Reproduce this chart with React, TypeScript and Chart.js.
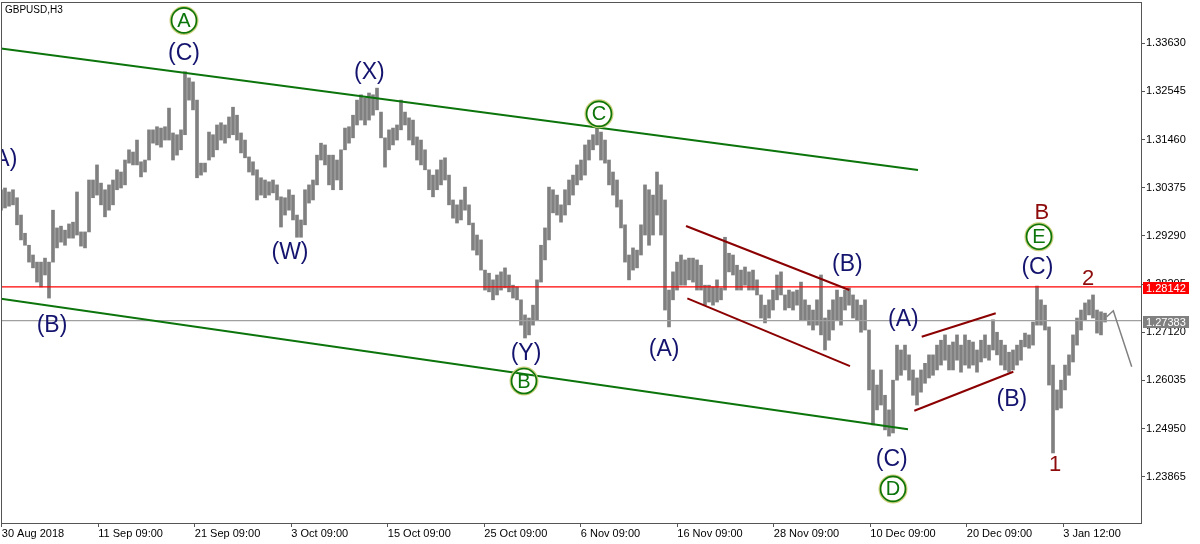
import React, { useEffect, useRef } from 'react';
import { Chart, registerables } from 'chart.js';

Chart.register(...registerables);

// ---- data: GBPUSD H3 bars (one entry per ~3 bars), highs and lows ----
const barHighs = [
  1.3033, 1.3037, 1.3028, 1.3033, 1.3015, 1.2976, 1.2935, 1.2908, 1.2886, 1.2870,
  1.2870, 1.2879, 1.2870, 1.2987, 1.2947, 1.2951, 1.2942, 1.2956, 1.2960, 1.3028,
  1.2938, 1.2938, 1.3055, 1.3055, 1.3089, 1.3048, 1.3033, 1.3044, 1.3055, 1.3078,
  1.3073, 1.3100, 1.3123, 1.3118, 1.3145, 1.3096, 1.3100, 1.3168, 1.3168, 1.3175,
  1.3172, 1.3175, 1.3217, 1.3161, 1.3157, 1.3168, 1.3299, 1.3285, 1.3276, 1.3235,
  1.3093, 1.3093, 1.3163, 1.3157, 1.3179, 1.3184, 1.3179, 1.3197, 1.3219, 1.3201,
  1.3161, 1.3145, 1.3107, 1.3096, 1.3078, 1.3060, 1.3055, 1.3051, 1.3055, 1.3044,
  1.3017, 1.3015, 1.3033, 1.3021, 1.2976, 1.2965, 1.3033, 1.3044, 1.3055, 1.3111,
  1.3138, 1.3134, 1.3111, 1.3111, 1.3100, 1.3123, 1.3172, 1.3175, 1.3201, 1.3235,
  1.3247, 1.3240, 1.3251, 1.3247, 1.3262, 1.3208, 1.3150, 1.3168, 1.3172, 1.3179,
  1.3235, 1.3208, 1.3195, 1.3190, 1.3152, 1.3145, 1.3123, 1.3078, 1.3066, 1.3078,
  1.3100, 1.3105, 1.3066, 1.3010, 1.2999, 1.3010, 1.3039, 1.2999, 1.2958, 1.2931,
  1.2920, 1.2852, 1.2845, 1.2830, 1.2841, 1.2848, 1.2857, 1.2841, 1.2818, 1.2814,
  1.2785, 1.2751, 1.2744, 1.2773, 1.2830, 1.2908, 1.2947, 1.3039, 1.3033, 1.3021,
  1.2999, 1.3033, 1.3055, 1.3066, 1.3089, 1.3100, 1.3134, 1.3145, 1.3157, 1.3175,
  1.3163, 1.3145, 1.3100, 1.3073, 1.3055, 1.3010, 1.2954, 1.2886, 1.2902, 1.2897,
  1.2954, 1.3044, 1.3033, 1.3021, 1.3073, 1.3044, 1.3010, 1.2807, 1.2848, 1.2870,
  1.2886, 1.2875, 1.2879, 1.2879, 1.2875, 1.2863, 1.2818, 1.2818, 1.2814, 1.2830,
  1.2812, 1.2926, 1.2890, 1.2886, 1.2863, 1.2852, 1.2859, 1.2848, 1.2852, 1.2830,
  1.2796, 1.2773, 1.2785, 1.2807, 1.2841, 1.2848, 1.2796, 1.2807, 1.2803, 1.2807,
  1.2825, 1.2785, 1.2773, 1.2762, 1.2785, 1.2841, 1.2744, 1.2762, 1.2785, 1.2807,
  1.2791, 1.2807, 1.2812, 1.2796, 1.2785, 1.2773, 1.2785, 1.2717, 1.2627, 1.2593,
  1.2627, 1.2570, 1.2537, 1.2604, 1.2683, 1.2672, 1.2683, 1.2661, 1.2627, 1.2609,
  1.2627, 1.2642, 1.2661, 1.2661, 1.2683, 1.2694, 1.2706, 1.2683, 1.2690, 1.2706,
  1.2683, 1.2706, 1.2694, 1.2690, 1.2672, 1.2694, 1.2706, 1.2683, 1.2740, 1.2712,
  1.2694, 1.2683, 1.2667, 1.2672, 1.2683, 1.2694, 1.2710, 1.2706, 1.2735, 1.2816,
  1.2785, 1.2773, 1.2724, 1.2638, 1.2582, 1.2604, 1.2638, 1.2661, 1.2706, 1.2744,
  1.2762, 1.2778, 1.2785, 1.2796, 1.2762, 1.2758, 1.2755,
];

const barLows = [
  1.2987, 1.2992, 1.2996, 1.2999, 1.2954, 1.2920, 1.2908, 1.2870, 1.2857, 1.2825,
  1.2814, 1.2841, 1.2789, 1.2870, 1.2902, 1.2915, 1.2908, 1.2924, 1.2924, 1.2931,
  1.2906, 1.2902, 1.2938, 1.3015, 1.3021, 1.2999, 1.2972, 1.2987, 1.2999, 1.3033,
  1.3037, 1.3044, 1.3093, 1.3089, 1.3089, 1.3062, 1.3073, 1.3100, 1.3138, 1.3134,
  1.3129, 1.3145, 1.3145, 1.3100, 1.3111, 1.3123, 1.3157, 1.3235, 1.3213, 1.3060,
  1.3066, 1.3073, 1.3100, 1.3107, 1.3123, 1.3145, 1.3138, 1.3150, 1.3157, 1.3145,
  1.3116, 1.3105, 1.3073, 1.3066, 1.3010, 1.3021, 1.3015, 1.3021, 1.3026, 1.3010,
  1.2949, 1.2976, 1.2987, 1.2965, 1.2926, 1.2926, 1.2954, 1.3003, 1.3010, 1.3044,
  1.3100, 1.3089, 1.3044, 1.3033, 1.3055, 1.3033, 1.3123, 1.3138, 1.3150, 1.3179,
  1.3190, 1.3179, 1.3190, 1.3201, 1.3213, 1.3150, 1.3084, 1.3123, 1.3134, 1.3145,
  1.3168, 1.3179, 1.3145, 1.3134, 1.3100, 1.3089, 1.3078, 1.3033, 1.3017, 1.3033,
  1.3044, 1.3055, 1.2999, 1.2969, 1.2958, 1.2965, 1.2987, 1.2954, 1.2897, 1.2886,
  1.2852, 1.2807, 1.2803, 1.2785, 1.2796, 1.2807, 1.2812, 1.2803, 1.2789, 1.2785,
  1.2728, 1.2699, 1.2706, 1.2728, 1.2740, 1.2825, 1.2875, 1.2920, 1.2981, 1.2976,
  1.2960, 1.2976, 1.2999, 1.3021, 1.3044, 1.3055, 1.3066, 1.3100, 1.3123, 1.3134,
  1.3100, 1.3093, 1.3044, 1.3021, 1.2994, 1.2947, 1.2870, 1.2830, 1.2852, 1.2857,
  1.2886, 1.2931, 1.2908, 1.2931, 1.2976, 1.2931, 1.2762, 1.2724, 1.2785, 1.2807,
  1.2818, 1.2818, 1.2830, 1.2825, 1.2807, 1.2807, 1.2773, 1.2780, 1.2773, 1.2780,
  1.2785, 1.2807, 1.2848, 1.2841, 1.2807, 1.2807, 1.2818, 1.2807, 1.2807, 1.2796,
  1.2744, 1.2733, 1.2744, 1.2762, 1.2785, 1.2796, 1.2762, 1.2767, 1.2762, 1.2773,
  1.2740, 1.2740, 1.2728, 1.2717, 1.2728, 1.2706, 1.2672, 1.2694, 1.2717, 1.2740,
  1.2728, 1.2762, 1.2773, 1.2744, 1.2740, 1.2712, 1.2717, 1.2582, 1.2503, 1.2537,
  1.2548, 1.2492, 1.2478, 1.2485, 1.2604, 1.2615, 1.2627, 1.2604, 1.2570, 1.2548,
  1.2577, 1.2597, 1.2609, 1.2615, 1.2627, 1.2638, 1.2649, 1.2627, 1.2627, 1.2649,
  1.2622, 1.2638, 1.2631, 1.2638, 1.2622, 1.2645, 1.2654, 1.2649, 1.2672, 1.2661,
  1.2638, 1.2627, 1.2622, 1.2627, 1.2638, 1.2649, 1.2679, 1.2676, 1.2683, 1.2728,
  1.2728, 1.2717, 1.2593, 1.2440, 1.2537, 1.2541, 1.2582, 1.2615, 1.2645, 1.2683,
  1.2717, 1.2740, 1.2751, 1.2744, 1.2710, 1.2706, 1.2735,
];

// ---- axes ----
const xTickPositions = [0.2, 24.325, 48.45, 72.575, 96.7, 120.825, 144.95, 169.075, 193.2, 217.325, 241.45, 265.575];
const xTickLabels = [
  '30 Aug 2018', '11 Sep 09:00', '21 Sep 09:00', '3 Oct 09:00', '15 Oct 09:00', '25 Oct 09:00',
  '6 Nov 09:00', '16 Nov 09:00', '28 Nov 09:00', '10 Dec 09:00', '20 Dec 09:00', '3 Jan 12:00',
];
const yTickValues = [1.23865, 1.2495, 1.26035, 1.2712, 1.28205, 1.2929, 1.30375, 1.3146, 1.32545, 1.3363];
const xMin = 0;
const xMax = 285.25;
const yMin = 1.227993;
const yMax = 1.345605;

// ---- levels ----
const resistanceLevel = 1.28142;
const bidLevel = 1.27383;

// ---- drawn lines (bar index, price) ----
const greenUpper = [{ x: 0, y: 1.33513 }, { x: 229.25, y: 1.30776 }];
const greenLower = [{ x: 0, y: 1.27873 }, { x: 226.75, y: 1.24932 }];
const redChannel1Upper = [{ x: 171.25, y: 1.29514 }, { x: 212.08, y: 1.28071 }];
const redChannel1Lower = [{ x: 171.58, y: 1.27884 }, { x: 212.25, y: 1.26358 }];
const redChannel2Upper = [{ x: 230.18, y: 1.27019 }, { x: 248.68, y: 1.27546 }];
const redChannel2Lower = [{ x: 228.33, y: 1.25351 }, { x: 253.08, y: 1.2623 }];
const forecastPath = [{ x: 276.43, y: 1.2747 }, { x: 278.08, y: 1.27605 }, { x: 282.68, y: 1.26343 }];

// ---- wave labels (bar index, price) ----
const navyWaveLabels = [
  { text: '(A)', x: 0.25, y: 1.31 },
  { text: '(B)', x: 12.75, y: 1.2726 },
  { text: '(C)', x: 45.75, y: 1.3339 },
  { text: '(W)', x: 72.25, y: 1.2891 },
  { text: '(X)', x: 92.1, y: 1.3297 },
  { text: '(Y)', x: 131.25, y: 1.2663 },
  { text: '(A)', x: 165.8, y: 1.2672 },
  { text: '(B)', x: 211.6, y: 1.2864 },
  { text: '(A)', x: 225.6, y: 1.274 },
  { text: '(C)', x: 222.7, y: 1.2424 },
  { text: '(B)', x: 252.7, y: 1.2559 },
  { text: '(C)', x: 259.1, y: 1.2857 },
];
const circledWaveLabels = [
  { text: 'A', x: 45.75, y: 1.34146 },
  { text: 'C', x: 149.5, y: 1.3204 },
  { text: 'B', x: 130.75, y: 1.2602 },
  { text: 'D', x: 223, y: 1.2359 },
  { text: 'E', x: 259.5, y: 1.29273 },
];
const redWaveLabels = [
  { text: 'B', x: 260.2, y: 1.29807 },
  { text: '2', x: 271.8, y: 1.28313 },
  { text: '1', x: 263.5, y: 1.2413 },
];

const symbolTitle = 'GBPUSD,H3';

const FONT = '"Liberation Sans", Arial, sans-serif';
const NAVY = '#14146f';
const GREEN = '#0b740b';
const DARKRED = '#8e0b0b';

const labelPlugin = {
  id: 'waveLabels',
  afterDatasetsDraw(chart: any) {
    const { ctx, chartArea, scales } = chart;
    const xs = scales.x;
    const ys = scales.y;
    ctx.save();
    ctx.beginPath();
    ctx.rect(chartArea.left, chartArea.top, chartArea.right - chartArea.left, chartArea.bottom - chartArea.top);
    ctx.clip();
    ctx.textAlign = 'center';
    ctx.textBaseline = 'middle';
    ctx.font = `23px ${FONT}`;
    ctx.fillStyle = NAVY;
    navyWaveLabels.forEach((l) => {
      ctx.fillText(l.text, xs.getPixelForValue(l.x), ys.getPixelForValue(l.y));
    });
    circledWaveLabels.forEach((l) => {
      const px = xs.getPixelForValue(l.x);
      const py = ys.getPixelForValue(l.y);
      ctx.beginPath();
      ctx.arc(px, py, 13, 0, Math.PI * 2);
      ctx.strokeStyle = '#c9cf7a';
      ctx.lineWidth = 3;
      ctx.stroke();
      ctx.beginPath();
      ctx.arc(px, py, 12.5, 0, Math.PI * 2);
      ctx.strokeStyle = GREEN;
      ctx.lineWidth = 1.6;
      ctx.stroke();
      ctx.font = `20px ${FONT}`;
      ctx.fillStyle = GREEN;
      ctx.fillText(l.text, px, py + 1);
    });
    ctx.font = `22px ${FONT}`;
    ctx.fillStyle = DARKRED;
    redWaveLabels.forEach((l) => {
      ctx.fillText(l.text, xs.getPixelForValue(l.x), ys.getPixelForValue(l.y));
    });
    ctx.restore();
  },
};

const framePlugin = {
  id: 'mtFrame',
  afterDraw(chart: any) {
    const { ctx, chartArea, scales } = chart;
    const ys = scales.y;
    ctx.save();
    ctx.strokeStyle = '#555555';
    ctx.lineWidth = 1;
    ctx.strokeRect(
      Math.round(chartArea.left) + 0.5,
      Math.round(chartArea.top) + 0.5,
      Math.round(chartArea.right - chartArea.left) - 1,
      Math.round(chartArea.bottom - chartArea.top) - 1,
    );
    // title
    ctx.font = `10px ${FONT}`;
    ctx.fillStyle = '#000';
    ctx.textAlign = 'left';
    ctx.textBaseline = 'middle';
    ctx.fillText(symbolTitle, 5, 10);
    // price boxes
    const boxes = [
      { v: resistanceLevel, bg: '#ff0000' },
      { v: bidLevel, bg: '#808080' },
    ];
    ctx.font = `11px ${FONT}`;
    boxes.forEach((b) => {
      const py = Math.round(ys.getPixelForValue(b.v));
      ctx.fillStyle = b.bg;
      ctx.fillRect(chartArea.right + 1, py - 5, 46, 12);
      ctx.fillStyle = '#ffffff';
      ctx.fillText(b.v.toFixed(5), chartArea.right + 4, py + 1.5);
    });
    ctx.restore();
  },
};

export default function App() {
  const canvasRef = useRef<HTMLCanvasElement | null>(null);

  useEffect(() => {
    document.body.style.margin = '0';
    const canvas = canvasRef.current;
    if (!canvas) return;

    const lineDs = (data: { x: number; y: number }[], color: string, width: number, order: number) => ({
      type: 'line' as const,
      data,
      borderColor: color,
      borderWidth: width,
      pointRadius: 0,
      pointHoverRadius: 0,
      tension: 0,
      fill: false,
      order,
    });

    const chart = new Chart(canvas, {
      type: 'bar',
      data: {
        datasets: [
          {
            type: 'bar' as const,
            data: barHighs.map((h, i) => ({ x: i, y: [barLows[i], h] })) as any,
            backgroundColor: '#808080',
            borderWidth: 0,
            barThickness: 3,
            grouped: false,
            order: 10,
          } as any,
          lineDs([{ x: xMin, y: resistanceLevel }, { x: xMax, y: resistanceLevel }], '#ff0000', 1.3, 5),
          lineDs([{ x: xMin, y: bidLevel }, { x: xMax, y: bidLevel }], '#a0a0a0', 1.2, 6),
          lineDs(greenUpper, GREEN, 2, 1),
          lineDs(greenLower, GREEN, 2, 1),
          lineDs(redChannel1Upper, '#8b0000', 2, 1),
          lineDs(redChannel1Lower, '#8b0000', 2, 1),
          lineDs(redChannel2Upper, '#8b0000', 2, 1),
          lineDs(redChannel2Lower, '#8b0000', 2, 1),
          lineDs(forecastPath, '#808080', 1.5, 1),
        ] as any,
      },
      options: {
        responsive: false,
        animation: false,
        devicePixelRatio: 1,
        events: [],
        layout: { padding: { top: 2, left: 1, right: 0, bottom: 0 } },
        plugins: {
          legend: { display: false },
          tooltip: { enabled: false },
          title: { display: false },
        },
        scales: {
          x: {
            type: 'linear',
            min: xMin,
            max: xMax,
            offset: false,
            position: 'bottom',
            grid: { display: true, drawOnChartArea: false, drawTicks: true, tickLength: 3, color: '#555555', offset: false },
            border: { display: false },
            afterBuildTicks: (s: any) => {
              s.ticks = xTickPositions.map((v) => ({ value: v }));
            },
            afterFit: (s: any) => {
              s.height = 20;
              s.paddingLeft = 0;
              s.paddingRight = 0;
            },
            ticks: {
              autoSkip: false,
              maxRotation: 0,
              minRotation: 0,
              align: 'start',
              padding: 0,
              color: '#000000',
              font: { family: FONT, size: 11 },
              callback: (_v: any, i: number) => xTickLabels[i],
            },
          },
          y: {
            type: 'linear',
            position: 'right',
            min: yMin,
            max: yMax,
            grid: { display: true, drawOnChartArea: false, drawTicks: true, tickLength: 3, color: '#555555' },
            border: { display: false },
            afterBuildTicks: (s: any) => {
              s.ticks = yTickValues.map((v) => ({ value: v }));
            },
            afterFit: (s: any) => {
              s.width = 58;
              s.paddingTop = 0;
              s.paddingBottom = 0;
            },
            ticks: {
              padding: 1,
              crossAlign: 'near',
              color: '#000000',
              font: { family: FONT, size: 11 },
              callback: (v: any) => Number(v).toFixed(5),
            },
          },
        },
      } as any,
      plugins: [labelPlugin, framePlugin],
    });

    return () => {
      chart.destroy();
    };
  }, []);

  return (
    <div style={{ width: 1200, height: 544, background: '#ffffff', position: 'relative' }}>
      <canvas ref={canvasRef} width={1200} height={544} style={{ display: 'block', width: 1200, height: 544 }} />
    </div>
  );
}
